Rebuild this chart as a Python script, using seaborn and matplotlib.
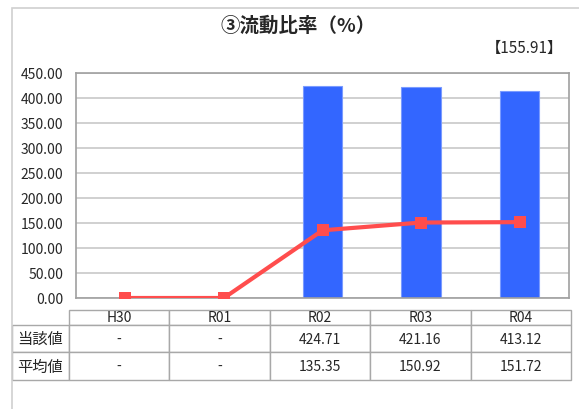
import pandas as pd
import seaborn as sns
import matplotlib.pyplot as plt
from matplotlib.table import Table
from matplotlib.patches import Rectangle

# データ
years = ['H30', 'R01', 'R02', 'R03', 'R04']
bar_years = ['R02', 'R03', 'R04']
touga = [424.71, 421.16, 413.12]          # 当該値
heikin = [0.0, 0.0, 135.35, 150.92, 151.72]  # 平均値（グラフ上の点）
touga_txt = ['-', '-', '424.71', '421.16', '413.12']
heikin_txt = ['-', '-', '135.35', '150.92', '151.72']
row_labels = ['当該値', '平均値']
title = '③流動比率（%）'
note = '【155.91】'
yticks = [0, 50, 100, 150, 200, 250, 300, 350, 400, 450]

sns.set_style('white')
plt.rcParams['font.family'] = ['Noto Sans CJK JP', 'DejaVu Sans']

W, H = 579, 410
fig = plt.figure(figsize=(W / 100, H / 100), dpi=100)

# 外枠
fig.add_artist(Rectangle((12 / W, -0.1), 1.2, 1.1 - 9 / H, transform=fig.transFigure,
                         fill=False, edgecolor='#D0D0D0', linewidth=1.2))

left, right, top, bottom = 76, 569, 74, 299
ax = fig.add_axes([left / W, 1 - bottom / H, (right - left) / W, (bottom - top) / H])

df_bar = pd.DataFrame({'年度': bar_years, '値': touga})
sns.barplot(data=df_bar, x='年度', y='値', order=years, color='#3366FF',
            saturation=1, width=0.4, edgecolor='#7A9BFF', linewidth=0.8, ax=ax, zorder=2)

df_line = pd.DataFrame({'年度': years, '値': heikin})
sns.pointplot(data=df_line, x='年度', y='値', order=years, color='#FF4D4D',
              markers='s', markersize=8, linewidth=3, ax=ax)
for ln in ax.lines:
    ln.set_markeredgewidth(0)
    ln.set_zorder(4)
for c in ax.collections:
    c.set_zorder(4)

ax.set_xlim(-0.5, 4.5)
ax.set_ylim(0, 450)
ax.set_yticks(yticks)
ax.set_yticklabels([f'{v:.2f}' for v in yticks], fontsize=10)
ax.set_xticks([])
ax.set_xlabel('')
ax.set_ylabel('')
ax.tick_params(axis='y', length=0, pad=9)
ax.grid(axis='y', color='#C8C8C8', linewidth=1.2, zorder=0)
ax.set_axisbelow(True)
for s in ax.spines.values():
    s.set_color('#A0A0A0')
    s.set_linewidth(1.2)

# タイトル
fig.text(298 / W, 1 - 26 / H, title, ha='center', va='center', fontsize=14, fontweight='bold')
fig.text(563 / W, 1 - 48 / H, note, ha='right', va='center', fontsize=11)

# データテーブル
tx0 = (12 - left) / (right - left)
tx1 = (571 - left) / (right - left)
ty1 = (bottom - 311) / (bottom - top)
ty0 = (bottom - 381) / (bottom - top)
tb = Table(ax, bbox=[tx0, ty0, tx1 - tx0, ty1 - ty0])
lw, cw = 57, 100.4
hh = [15, 27, 28]
for j, y in enumerate(years):
    tb.add_cell(0, j + 1, cw, hh[0], text=y, loc='center')
for i, (lab, vals) in enumerate(zip(row_labels, [touga_txt, heikin_txt])):
    tb.add_cell(i + 1, 0, lw, hh[i + 1], text=lab, loc='center')
    for j, v in enumerate(vals):
        tb.add_cell(i + 1, j + 1, cw, hh[i + 1], text=v, loc='center')
tb.auto_set_font_size(False)
tb.set_fontsize(10)
for (r, c), cell in tb.get_celld().items():
    cell.set_edgecolor('#A8A8A8')
    cell.set_linewidth(1.0)
    cell.PAD = 0.02
    if c == 0:
        cell.get_text().set_fontsize(11)
tb.set_clip_on(False)
ax.add_table(tb)

fig.savefig('out.png', dpi=100)
